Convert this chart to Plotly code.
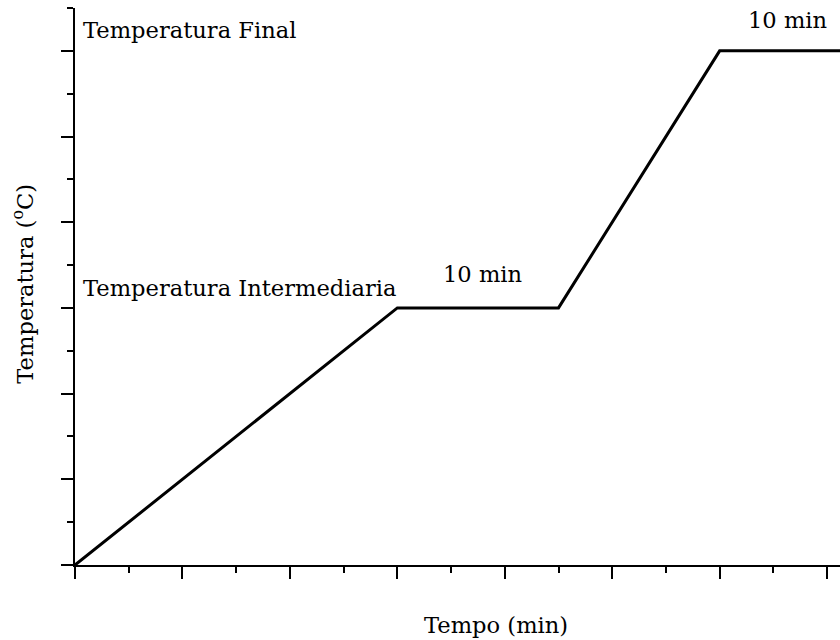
import plotly.graph_objects as go

# Heating program: ramp -> hold -> ramp -> hold (arbitrary units, no tick labels)
tempo = [0, 30, 45, 60, 72]
temperatura = [0, 30, 30, 60, 60]

# Text labels and their anchor points (data units)
label_text = ["Temperatura Final", "Temperatura Intermediaria", "10 min", "10 min"]
label_x = [0.6, 0.6, 37.95, 66.3]
label_y = [62.4, 32.3, 34.0, 63.6]
label_anchor = ["left", "left", "center", "center"]

FONT = "DejaVu Serif"
FS = 22.6

fig = go.Figure()
fig.add_trace(go.Scatter(
    x=tempo, y=temperatura, mode="lines",
    line=dict(color="black", width=3),
    showlegend=False, hoverinfo="skip",
))

for t, x, y, a in zip(label_text, label_x, label_y, label_anchor):
    fig.add_annotation(
        x=x, y=y, xref="x", yref="y", text=t, showarrow=False,
        xanchor=a, yanchor="middle",
        font=dict(family=FONT, size=FS, color="black"),
    )

# Axis titles
fig.add_annotation(
    x=462 / 840, y=-0.107, xref="paper", yref="paper",
    text="Tempo (min)", showarrow=False, xanchor="center", yanchor="middle",
    font=dict(family=FONT, size=FS, color="black"),
)
fig.add_annotation(
    x=-0.068, y=0.505, xref="paper", yref="paper", textangle=-90,
    text="Temperatura (<sup>o</sup>C)", showarrow=False,
    xanchor="center", yanchor="middle",
    font=dict(family=FONT, size=FS, color="black"),
)

axis_common = dict(
    showgrid=False, zeroline=False, showticklabels=False,
    showline=True, linecolor="black", linewidth=2,
    ticks="outside", tickcolor="black", tickwidth=2, ticklen=12,
    dtick=10, tick0=0,
    minor=dict(ticks="outside", ticklen=6, tickwidth=2, tickcolor="black", dtick=5),
)

fig.update_xaxes(range=[0, 71.2], **axis_common)
fig.update_yaxes(range=[0, 65], **axis_common)

fig.update_layout(
    width=840, height=640,
    margin=dict(l=75, r=0, t=8, b=75),
    plot_bgcolor="white", paper_bgcolor="white",
    font=dict(family=FONT, size=FS, color="black"),
)

fig.write_html("out.html")
